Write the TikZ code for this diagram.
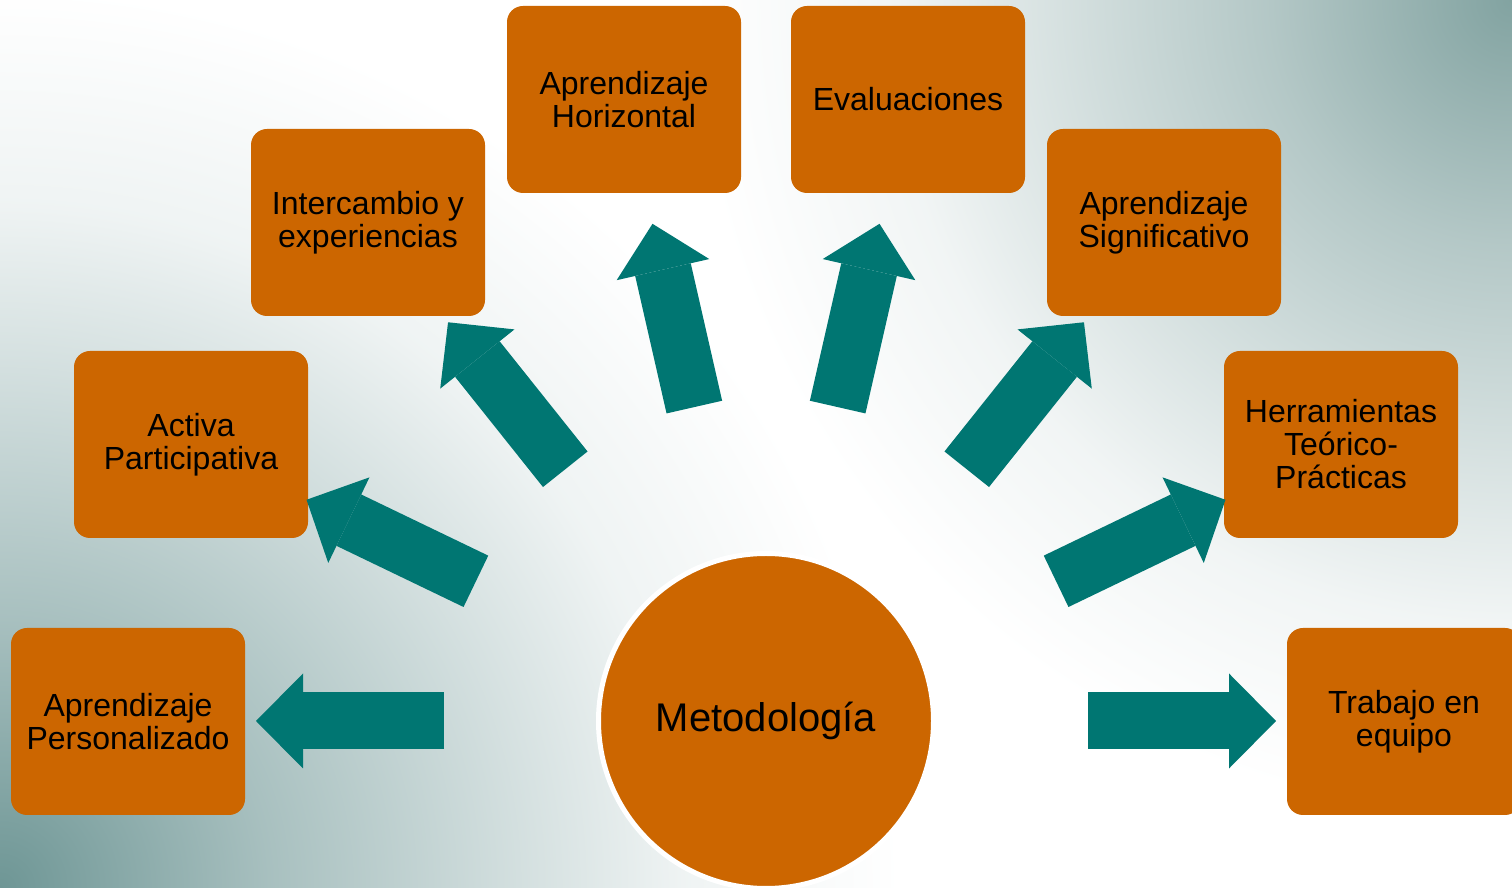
\documentclass[tikz,border=0pt]{standalone}
\usepackage{fontspec}
\setmainfont{Liberation Sans}
\usetikzlibrary{positioning,calc,arrows.meta}
\definecolor{metonaranja}{RGB}{204,102,0}
\definecolor{metoteal}{RGB}{0,118,114}
\definecolor{fondoA}{RGB}{130,163,161}
\definecolor{fondoB}{RGB}{110,150,149}
\colorlet{fondoA1}{fondoA!60!white}
\colorlet{fondoA2}{fondoA!32!white}
\colorlet{fondoA3}{fondoA!11!white}
\colorlet{fondoB1}{fondoB!60!white}
\colorlet{fondoB2}{fondoB!32!white}
\colorlet{fondoB3}{fondoB!11!white}
\pgfdeclareradialshading{fondoTR}{\pgfpoint{0bp}{0bp}}{color(0bp)=(fondoA); color(7.5bp)=(fondoA1); color(14bp)=(fondoA2); color(19bp)=(fondoA3); color(25bp)=(white); color(50bp)=(white)}
\pgfdeclareradialshading{fondoBL}{\pgfpoint{0bp}{0bp}}{color(0bp)=(fondoB); color(7.5bp)=(fondoB1); color(14bp)=(fondoB2); color(19bp)=(fondoB3); color(25bp)=(white); color(50bp)=(white)}

\begin{document}
\begin{tikzpicture}[x=1pt, y=1pt,
    caja/.style={rectangle, rounded corners=16pt, fill=metonaranja, minimum width=234pt, minimum height=187pt, inner sep=0pt, align=center, font=\fontsize{32}{33}\selectfont},
    flecha/.style={draw=metoteal, line width=57pt, -{Triangle[length=47pt, width=95pt, line width=0pt]}}]
    \useasboundingbox (0,0) rectangle (1512,888);
    % fondo
    \fill[white] (0,0) rectangle (1512,888);
    \shade[shading=fondoTR] (1512,888) circle (820);
    \shade[shading=fondoBL] (0,0) circle (900);

    \node[circle, fill=metonaranja, draw=white, line width=5pt, minimum size=335pt, font=\fontsize{40}{44}\selectfont] (meto) at (766,167) {Metodología};

    \node[caja] (pers) at (128,166.5) {Aprendizaje\\Personalizado};
    \node[caja] (activa) at (191,443.5) {Activa\\Participativa};
    \node[caja] (inter) at (368,665.5) {Intercambio y\\experiencias};
    \node[caja] (horiz) at (624,788.5) {Aprendizaje\\Horizontal};
    \node[caja] (eval) at (908,788.5) {Evaluaciones};
    \node[caja] (signif) at (1164,665.5) {Aprendizaje\\Significativo};
    \node[caja] (herr) at (1341,443.5) {Herramientas\\Teórico-\\Prácticas};
    \node[caja] (equipo) at (1404,166.5) {Trabajo en\\equipo};

    % flechas
    \coordinate (a1) at ($(meto)+(180:322)$);
    \coordinate (b1) at ($(meto)+(180:510)$);
    \coordinate (a2) at ($(meto)+(154.29:322)$);
    \coordinate (b2) at ($(meto)+(154.29:510)$);
    \coordinate (a3) at ($(meto)+(128.57:322)$);
    \coordinate (b3) at ($(meto)+(128.57:510)$);
    \coordinate (a4) at ($(meto)+(102.86:322)$);
    \coordinate (b4) at ($(meto)+(102.86:510)$);
    \coordinate (a5) at ($(meto)+(77.14:322)$);
    \coordinate (b5) at ($(meto)+(77.14:510)$);
    \coordinate (a6) at ($(meto)+(51.43:322)$);
    \coordinate (b6) at ($(meto)+(51.43:510)$);
    \coordinate (a7) at ($(meto)+(25.71:322)$);
    \coordinate (b7) at ($(meto)+(25.71:510)$);
    \coordinate (a8) at ($(meto)+(0:322)$);
    \coordinate (b8) at ($(meto)+(0:510)$);

    \draw[flecha] (a1) -- (b1);
    \draw[flecha] (a2) -- (b2);
    \draw[flecha] (a3) -- (b3);
    \draw[flecha] (a4) -- (b4);
    \draw[flecha] (a5) -- (b5);
    \draw[flecha] (a6) -- (b6);
    \draw[flecha] (a7) -- (b7);
    \draw[flecha] (a8) -- (b8);
\end{tikzpicture}
\end{document}
